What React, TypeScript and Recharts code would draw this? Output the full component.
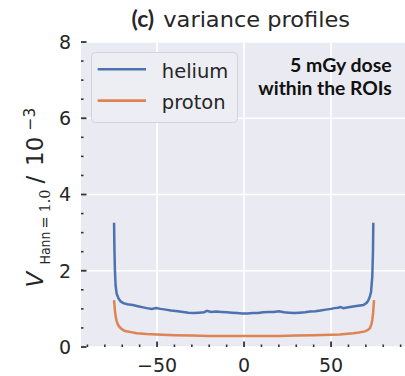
import React from 'react';
import { LineChart, Line, XAxis, YAxis, CartesianGrid, Legend } from 'recharts';

// ---- data ----
const heliumPositions = [-74.7, -74.5, -74.2, -73.8, -73.2, -72.2, -71, -69.4, -67, -64, -61, -58, -55.9, -53, -50.5, -48, -45, -42, -38, -35, -32, -29, -26, -23, -21.4, -19, -16, -13, -10, -7, -4, -1, 2, 5, 8, 11, 14, 17, 20, 23, 26, 29, 32, 35, 38, 41, 44, 47, 50, 52, 54, 55.5, 57, 60, 62.8, 65.5, 68.6, 70.5, 71.4, 72.3, 73, 73.7, 74.1, 74.3];
const heliumVariance = [3.26, 2.6, 2.0, 1.6, 1.4, 1.28, 1.2, 1.15, 1.12, 1.1, 1.07, 1.04, 1.02, 1.0, 1.02, 1.0, 0.98, 0.96, 0.94, 0.92, 0.9, 0.89, 0.9, 0.91, 0.95, 0.92, 0.93, 0.92, 0.91, 0.9, 0.89, 0.88, 0.88, 0.89, 0.89, 0.91, 0.92, 0.92, 0.94, 0.91, 0.9, 0.89, 0.9, 0.91, 0.93, 0.94, 0.96, 0.98, 1.0, 1.02, 1.03, 1.05, 1.02, 1.04, 1.06, 1.08, 1.1, 1.16, 1.22, 1.32, 1.45, 1.85, 2.5, 3.26];
const protonPositions = [-74.7, -74.2, -73.7, -73.2, -72.3, -71.3, -70, -68.4, -65, -61.7, -56, -50, -40, -30, -20, -10, 0, 10, 20, 30, 40, 50, 55, 62.8, 66, 69.5, 71.2, 72.4, 73.2, 73.7, 74.2, 74.7];
const protonVariance = [1.23, 0.95, 0.78, 0.68, 0.57, 0.51, 0.46, 0.42, 0.39, 0.36, 0.34, 0.33, 0.31, 0.3, 0.29, 0.29, 0.29, 0.29, 0.29, 0.3, 0.31, 0.32, 0.33, 0.36, 0.38, 0.41, 0.45, 0.5, 0.6, 0.71, 0.9, 1.23];

const seriesNames = ['helium', 'proton'];
const seriesColors = ['#4C72B0', '#DD8452'];

const xMajorTicks = [-50, 0, 50];
const xAllTicks = [-90, -80, -70, -60, -50, -40, -30, -20, -10, 0, 10, 20, 30, 40, 50, 60, 70, 80, 90];
const yMajorTicks = [0, 2, 4, 6, 8];
const yAllTicks = [0, 0.5, 1, 1.5, 2, 2.5, 3, 3.5, 4, 4.5, 5, 5.5, 6, 6.5, 7, 7.5, 8];
const xDomain = [-93.7, 92.5];
const yDomain = [0, 8];

const titleBold = '(c)';
const titleText = 'variance profiles';
const noteLines = ['5 mGy dose', 'within the ROIs'];

const heliumData = heliumPositions.map((x, i) => ({ x, v: heliumVariance[i] }));
const protonData = protonPositions.map((x, i) => ({ x, v: protonVariance[i] }));

// ---- styles ----
const TICK_COLOR = '#333333';
const TEXT_COLOR = '#262626';
const SANS = 'DejaVu Sans';
const fmt = (v: number) => (v < 0 ? '\u2212' + Math.abs(v) : String(v));

const BottomTick = (props: any) => {
  const { x, y, payload } = props;
  const major = xMajorTicks.includes(payload.value);
  return (
    <g>
      <line x1={x} x2={x} y1={y} y2={y - (major ? 5.5 : 2.5)} stroke={TICK_COLOR} strokeWidth={major ? 1.8 : 1.6} />
      {major && (
        <text x={x} y={y + 24.5} textAnchor="middle" fontSize={19} fontFamily={SANS} fill={TEXT_COLOR}>
          {fmt(payload.value)}
        </text>
      )}
    </g>
  );
};

const TopTick = (props: any) => {
  const { x, y, payload } = props;
  const major = xMajorTicks.includes(payload.value);
  return <line x1={x} x2={x} y1={y} y2={y + (major ? 5.5 : 2.5)} stroke={TICK_COLOR} strokeWidth={major ? 1.8 : 1.6} />;
};

const LeftTick = (props: any) => {
  const { x, y, payload } = props;
  const major = yMajorTicks.includes(payload.value);
  return (
    <g>
      <line x1={x} x2={x + (major ? 5.5 : 2.5)} y1={y} y2={y} stroke={TICK_COLOR} strokeWidth={major ? 1.8 : 1.6} />
      {major && (
        <text x={x - 10} y={y + 6.8} textAnchor="end" fontSize={19} fontFamily={SANS} fill={TEXT_COLOR}>
          {fmt(payload.value)}
        </text>
      )}
    </g>
  );
};

const RightTick = (props: any) => {
  const { x, y, payload } = props;
  const major = yMajorTicks.includes(payload.value);
  return <line x1={x} x2={x - (major ? 5.5 : 2.5)} y1={y} y2={y} stroke={TICK_COLOR} strokeWidth={major ? 1.8 : 1.6} />;
};

const LegendBox = (props: any) => {
  const payload = props.payload || [];
  return (
    <svg width={147} height={71} style={{ display: 'block' }}>
      <rect x={0.5} y={0.5} width={146} height={70} rx={4} fill="#EDEDF4" stroke="#D3D3DC" strokeWidth={1} />
      {payload.map((p: any, i: number) => (
        <g key={i}>
          <line x1={6.7} x2={55} y1={17.3 + i * 31.3} y2={17.3 + i * 31.3} stroke={p.color} strokeWidth={2.6} />
          <text x={70.8} y={25.6 + i * 31} fontSize={19.5} fontFamily={SANS} fill={TEXT_COLOR}>
            {p.value}
          </text>
        </g>
      ))}
    </svg>
  );
};

export default function App() {
  return (
    <div style={{ position: 'absolute', left: 8, top: 0 }}>
      <LineChart width={397} height={376} margin={{ top: 42, right: 0, bottom: 0, left: 0 }}>
        <CartesianGrid
          xAxisId="b"
          yAxisId="l"
          fill="#EAEAF2"
          stroke="#FFFFFF"
          strokeWidth={1.7}
          verticalValues={xMajorTicks}
          horizontalValues={yMajorTicks}
        />
        <XAxis
          xAxisId="b"
          dataKey="x"
          type="number"
          orientation="bottom"
          domain={xDomain}
          allowDataOverflow
          ticks={xAllTicks}
          interval={0}
          height={29}
          axisLine={false}
          tickLine={false}
          tickSize={0}
          tickMargin={0}
          tick={<BottomTick />}
        />
        <XAxis
          xAxisId="t"
          dataKey="x"
          type="number"
          orientation="top"
          domain={xDomain}
          allowDataOverflow
          ticks={xAllTicks}
          interval={0}
          height={0}
          axisLine={false}
          tickLine={false}
          tickSize={0}
          tickMargin={0}
          tick={<TopTick />}
        />
        <YAxis
          yAxisId="l"
          type="number"
          orientation="left"
          domain={yDomain}
          allowDataOverflow
          ticks={yAllTicks}
          interval={0}
          width={73}
          axisLine={false}
          tickLine={false}
          tickSize={0}
          tickMargin={0}
          tick={<LeftTick />}
        />
        <YAxis
          yAxisId="r"
          type="number"
          orientation="right"
          domain={yDomain}
          allowDataOverflow
          ticks={yAllTicks}
          interval={0}
          width={0}
          axisLine={false}
          tickLine={false}
          tickSize={0}
          tickMargin={0}
          tick={<RightTick />}
        />
        <Line
          xAxisId="b"
          yAxisId="l"
          data={heliumData}
          dataKey="v"
          name={seriesNames[0]}
          stroke={seriesColors[0]}
          strokeWidth={2.5}
          dot={false}
          type="linear"
          isAnimationActive={false}
        />
        <Line
          xAxisId="b"
          yAxisId="l"
          data={protonData}
          dataKey="v"
          name={seriesNames[1]}
          stroke={seriesColors[1]}
          strokeWidth={2.5}
          dot={false}
          type="linear"
          isAnimationActive={false}
        />
        <Legend
          layout="horizontal"
          verticalAlign="middle"
          align="center"
          wrapperStyle={{ position: 'absolute', left: 83, top: 51.7, width: 147, height: 71 }}
          content={(props: any) => <LegendBox payload={props.payload} />}
        />
        <text x={123.5} y={27} fontSize={23} fontWeight="bold" fontFamily="Lato" fill={TEXT_COLOR}>
          {titleBold}
        </text>
        <text x={155.3} y={27} fontSize={21.5} fontFamily={SANS} fill={TEXT_COLOR} textLength={186.7} lengthAdjust="spacingAndGlyphs">
          {titleText}
        </text>
        <text x={383.7} y={71.7} textAnchor="end" fontSize={18.5} fontWeight="bold" fontFamily="Lato" fill="#111111" textLength={101.7} lengthAdjust="spacingAndGlyphs">
          {noteLines[0]}
        </text>
        <text x={383.7} y={95} textAnchor="end" fontSize={18.5} fontWeight="bold" fontFamily="Lato" fill="#111111" textLength={133.4} lengthAdjust="spacingAndGlyphs">
          {noteLines[1]}
        </text>
        <g transform="translate(35.3,194) rotate(-90)">
          <text fontFamily={SANS} fill={TEXT_COLOR}>
            <tspan x={-93.5} y={0} fontSize={23} fontStyle="italic">V</tspan>
            <tspan x={-70.5} y={6.5} fontSize={14.5} textLength={33} lengthAdjust="spacingAndGlyphs">Hann</tspan>
            <tspan x={-34.5} y={6.5} fontSize={14.5}>=</tspan>
            <tspan x={-18.5} y={6.5} fontSize={14.5} fontFamily="DejaVu Serif">1.0</tspan>
            <tspan x={10.5} y={0} fontSize={23}>/</tspan>
            <tspan x={28} y={0} fontSize={23}>10</tspan>
            <tspan x={63.5} y={-8.5} fontSize={15.5}>{'\u22123'}</tspan>
          </text>
        </g>
      </LineChart>
    </div>
  );
}
